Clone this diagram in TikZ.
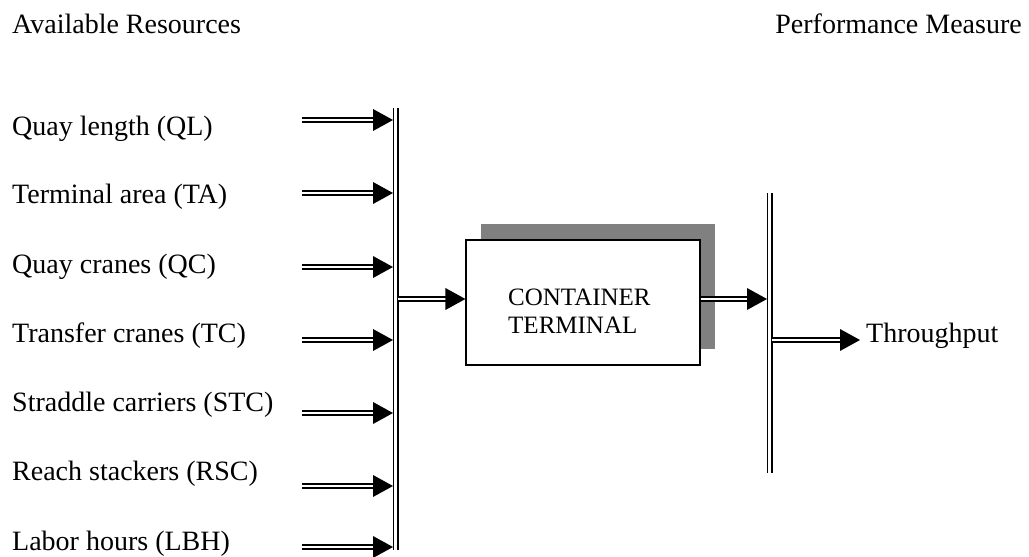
\documentclass[tikz,border=0pt]{standalone}
\usepackage{fontspec}
\setmainfont{Liberation Serif}
\usetikzlibrary{shadows}
\definecolor{shadowgray}{HTML}{808080}

\tikzset{
  lbl/.style={anchor=base west, inner sep=0pt, font=\fontsize{28}{33}\selectfont},
  boxtxt/.style={anchor=base west, inner sep=0pt, font=\fontsize{25}{30}\selectfont},
  dbl/.style={draw=black, double=white, double distance=2.4pt, line width=1.8pt},
  bar/.style={draw=black, double=white, double distance=2.4pt, line width=1.8pt},
  headfill/.style={fill=black},
  termbox/.style={draw=black, line width=1.2pt, fill=white,
    minimum width=234pt, minimum height=125pt, inner sep=0pt,
    drop shadow={shadow xshift=15pt, shadow yshift=16pt, fill=shadowgray, opacity=1}},
}

% double-shafted arrow with a solid triangular head ending at #2
\newcommand\dblarrow[2]{%
  \draw[dbl] (#1) -- ([xshift=-10pt]#2);
  \fill[headfill] (#2) -- ++(-20pt,11pt) -- ++(0pt,-22pt) -- cycle;
}

\begin{document}
\begin{tikzpicture}[x=1pt, y=-1pt]
\useasboundingbox (0,0) rectangle (1029,557);

% headings
\node[lbl] (hres) at (12,33) {Available Resources};
\node[lbl, anchor=base east] (hperf) at (1022,33) {Performance Measure};

% collecting bar on the input side
\coordinate (lbar-t) at (395.5,108);
\coordinate (lbar-b) at (395.5,550);
\draw[bar] (lbar-t) -- (lbar-b);

% resources and their arrows
\foreach \nm/\txt/\yb/\ya in {
  ql/Quay length (QL)/135/120,
  ta/Terminal area (TA)/203/193,
  qc/Quay cranes (QC)/273/267,
  tc/Transfer cranes (TC)/342/340,
  stc/Straddle carriers (STC)/411/413,
  rsc/Reach stackers (RSC)/480/486,
  lbh/Labor hours (LBH)/550/547}{
  \node[lbl] (\nm) at (12,\yb) {\txt};
  \coordinate (\nm-s) at (302,\ya);
  \coordinate (\nm-e) at (393,\ya);
  \dblarrow{\nm-s}{\nm-e}
}

% terminal box with its shadow
\node[termbox] (ct) at (583,302.5) {};
\node[boxtxt] (ct1) at (508,305) {CONTAINER};
\node[boxtxt] (ct2) at (508,333) {TERMINAL};

% bar into the terminal
\coordinate (in-s) at (398,299);
\coordinate (in-e) at (ct.west |- in-s);
\dblarrow{in-s}{in-e}

% collecting bar on the output side
\coordinate (rbar-t) at (769.5,193);
\coordinate (rbar-b) at (769.5,473);
\draw[bar] (rbar-t) -- (rbar-b);

% terminal to output bar
\coordinate (out-e) at (767,299);
\coordinate (out-s) at (ct.east |- out-e);
\dblarrow{out-s}{out-e}

% output bar to throughput
\node[lbl] (tp) at (866,342) {Throughput};
\coordinate (tp-s) at (772,340);
\coordinate (tp-e) at (860,340);
\dblarrow{tp-s}{tp-e}
\end{tikzpicture}
\end{document}
